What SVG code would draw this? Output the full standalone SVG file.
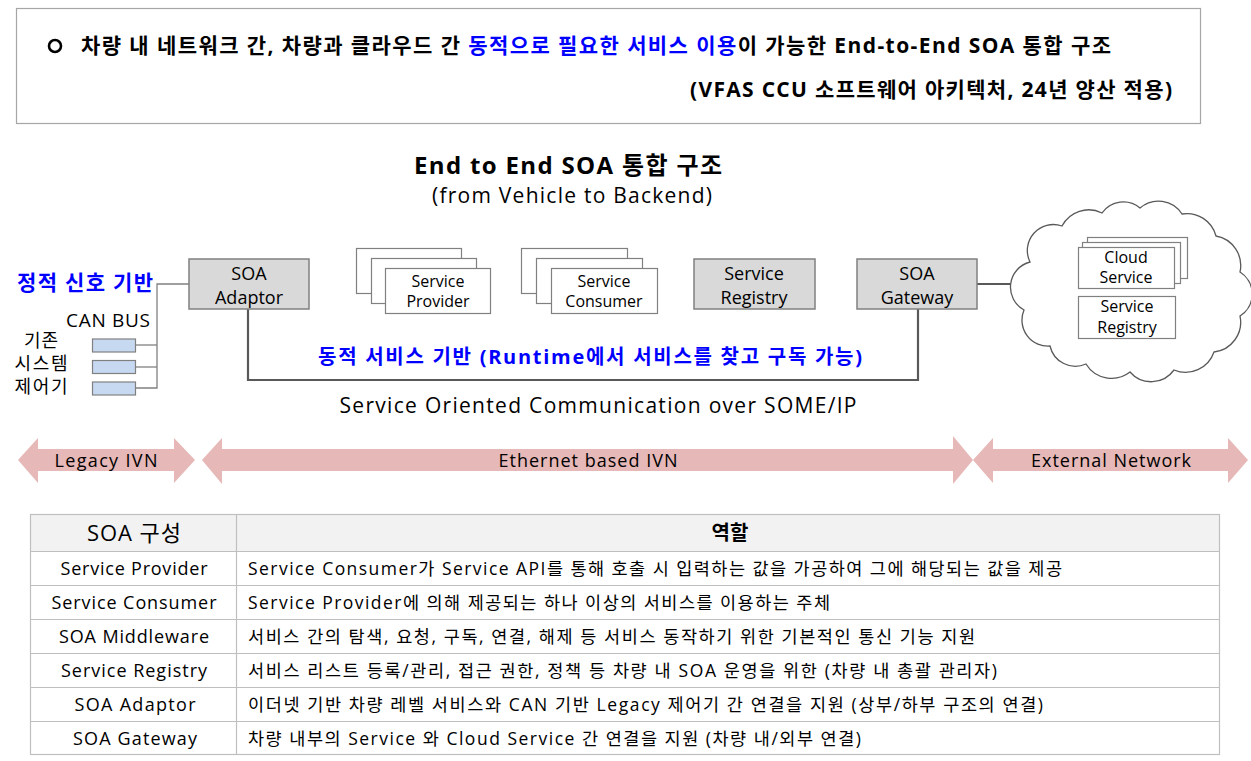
<svg xmlns="http://www.w3.org/2000/svg" width="1251" height="761" viewBox="0 0 1251 761">
<style>
text{font-family:"Open Sans","Noto Sans CJK KR",sans-serif;fill:#000}
.b{font-weight:bold}
.blue{fill:#0000ff}
.box{fill:#d9d9d9;stroke:#808080;stroke-width:1.5}
.wbox{fill:#fff;stroke:#808080;stroke-width:1.2}
.can{fill:#c6d9f1;stroke:#808080;stroke-width:1.2}
.ln{fill:none;stroke:#808080;stroke-width:1.3}
.bus{fill:none;stroke:#595959;stroke-width:2.2}
.nt{font-size:18px;text-anchor:middle}
.st{font-size:16px;text-anchor:middle}
.arr{fill:#e6b8b7}
.at{font-size:18px;text-anchor:middle}
.grid{stroke:#bfbfbf;stroke-width:1.2;fill:none}
.c1{font-size:18px;text-anchor:middle}
.c2{font-size:17.5px}
.lg{font-size:18px;text-anchor:middle}
</style>
<rect width="1251" height="761" fill="#fff"/>
<g id="title">
<rect x="16.5" y="8.5" width="1184" height="115" fill="#fff" stroke="#a6a6a6" stroke-width="1.2"/>
<circle cx="55" cy="46" r="6" fill="none" stroke="#000" stroke-width="2.6"/>
<text x="81" y="53" class="b" font-size="21" textLength="1030">차량 내 네트워크 간, 차량과 클라우드 간 <tspan class="blue">동적으로 필요한 서비스 이용</tspan>이 가능한 End-to-End SOA 통합 구조</text>
<text x="1172" y="97" class="b" font-size="21" text-anchor="end" textLength="482">(VFAS CCU 소프트웨어 아키텍처, 24년 양산 적용)</text>
</g>
<g id="heading">
<text x="568" y="174" font-size="24" class="b" text-anchor="middle" textLength="308">End to End SOA 통합 구조</text>
<text x="572" y="203" font-size="21" text-anchor="middle" textLength="280">(from Vehicle to Backend)</text>
</g>
<g id="connectors">
<polyline class="ln" points="189,284 157,284 157,388 135,388"/>
<line class="ln" x1="135" y1="345" x2="157" y2="345"/>
<line class="ln" x1="135" y1="367" x2="157" y2="367"/>
<polyline class="bus" points="248,309 248,380 918,380 918,309"/>
<line class="bus" x1="977" y1="284" x2="1019" y2="284"/>
</g>
<g id="legacy">
<text x="17" y="290" class="b blue" font-size="21" textLength="136">정적 신호 기반</text>
<text x="108" y="327" font-size="19" text-anchor="middle" textLength="84">CAN BUS</text>
<text class="lg" x="41" y="347" textLength="34">기존</text>
<text class="lg" x="41" y="370" textLength="53">시스템</text>
<text class="lg" x="41" y="393" textLength="53">제어기</text>
<rect class="can" x="92.5" y="339" width="43" height="13"/>
<rect class="can" x="92.5" y="360.5" width="43" height="13"/>
<rect class="can" x="92.5" y="382" width="43" height="13"/>
</g>
<g id="soa-adaptor">
<rect class="box" x="189" y="259" width="120" height="50"/>
<text class="nt" x="249" y="280">SOA</text>
<text class="nt" x="249" y="304">Adaptor</text>
</g>
<g id="service-provider">
<rect class="wbox" x="356.5" y="248.5" width="105" height="45"/>
<rect class="wbox" x="371.5" y="258.5" width="105" height="45"/>
<rect class="wbox" x="385.5" y="268.5" width="105" height="45"/>
<text class="st" x="438" y="287">Service</text>
<text class="st" x="438" y="307">Provider</text>
</g>
<g id="service-consumer">
<rect class="wbox" x="521.5" y="248.5" width="106" height="45"/>
<rect class="wbox" x="536.5" y="258.5" width="106" height="45"/>
<rect class="wbox" x="551.5" y="268.5" width="106" height="45"/>
<text class="st" x="604" y="287">Service</text>
<text class="st" x="604" y="307">Consumer</text>
</g>
<g id="service-registry">
<rect class="box" x="694" y="259" width="121" height="50"/>
<text class="nt" x="754" y="280">Service</text>
<text class="nt" x="754" y="304">Registry</text>
</g>
<g id="soa-gateway">
<rect class="box" x="857" y="259" width="120" height="50"/>
<text class="nt" x="917" y="280">SOA</text>
<text class="nt" x="917" y="304">Gateway</text>
</g>
<g id="labels">
<text x="318" y="364" class="b blue" font-size="20" textLength="544">동적 서비스 기반 (Runtime에서 서비스를 찾고 구독 가능)</text>
<text x="598" y="413" font-size="21" text-anchor="middle" textLength="517">Service Oriented Communication over SOME/IP</text>
</g>
<g id="cloud">
<path fill="#fff" stroke="#595959" stroke-width="1.3" d="M1030,262 A26,26 0 0 1 1062,226 A30,30 0 0 1 1102,213 A26,26 0 0 1 1140,208 A28,28 0 0 1 1182,214 A30,30 0 0 1 1216,236 A30,30 0 0 1 1240,272 A26,26 0 0 1 1240,316 A30,30 0 0 1 1214,352 A30,30 0 0 1 1174,370 A28,28 0 0 1 1130,372 A30,30 0 0 1 1086,364 A26,26 0 0 1 1050,346 A26,26 0 0 1 1024,310 A26,26 0 0 1 1030,262 Z"/>
<rect class="wbox" x="1087.5" y="237.5" width="100" height="41"/>
<rect class="wbox" x="1082.5" y="242.5" width="98" height="41"/>
<rect class="wbox" x="1078.5" y="247.5" width="96" height="41"/>
<text class="st" x="1126" y="263">Cloud</text>
<text class="st" x="1126" y="283">Service</text>
<rect class="wbox" x="1078.5" y="296.5" width="97" height="42"/>
<text class="st" x="1127" y="312">Service</text>
<text class="st" x="1127" y="333">Registry</text>
</g>
<g id="ivn-arrows">
<polygon class="arr" points="18,460 38,438 38,449 174,449 174,438 195,460 174,483 174,471 38,471 38,483"/>
<text class="at" x="106" y="467" textLength="103">Legacy IVN</text>
<polygon class="arr" points="202,460 222,438 222,449 953,449 953,436 973,460 953,484 953,471 222,471 222,484"/>
<text class="at" x="588" y="467" textLength="179">Ethernet based IVN</text>
<polygon class="arr" points="973,460 993,438 993,449 1228,449 1228,438 1248,460 1228,483 1228,471 993,471 993,483"/>
<text class="at" x="1111" y="467" textLength="160">External Network</text>
</g>
<g id="table">
<rect x="30" y="514" width="1189" height="37" fill="#f2f2f2"/>
<rect class="grid" x="30.5" y="514.5" width="1189" height="240"/>
<line class="grid" x1="236.5" y1="514" x2="236.5" y2="755"/>
<line class="grid" x1="30" y1="551.5" x2="1219" y2="551.5"/>
<line class="grid" x1="30" y1="585.5" x2="1219" y2="585.5"/>
<line class="grid" x1="30" y1="619.5" x2="1219" y2="619.5"/>
<line class="grid" x1="30" y1="653.5" x2="1219" y2="653.5"/>
<line class="grid" x1="30" y1="687.5" x2="1219" y2="687.5"/>
<line class="grid" x1="30" y1="721.5" x2="1219" y2="721.5"/>
<text x="134" y="541" font-size="22" text-anchor="middle" textLength="94">SOA 구성</text>
<text x="730" y="540" font-size="20" text-anchor="middle" class="b">역할</text>
<text class="c1" x="134" y="575" textLength="147">Service Provider</text>
<text class="c2" x="248" y="575" textLength="814">Service Consumer가 Service API를 통해 호출 시 입력하는 값을 가공하여 그에 해당되는 값을 제공</text>
<text class="c1" x="134" y="609" textLength="165">Service Consumer</text>
<text class="c2" x="248" y="609" textLength="582">Service Provider에 의해 제공되는 하나 이상의 서비스를 이용하는 주체</text>
<text class="c1" x="134" y="643" textLength="150">SOA Middleware</text>
<text class="c2" x="248" y="643" textLength="727">서비스 간의 탐색, 요청, 구독, 연결, 해제 등 서비스 동작하기 위한 기본적인 통신 기능 지원</text>
<text class="c1" x="134" y="677" textLength="146">Service Registry</text>
<text class="c2" x="248" y="677" textLength="749">서비스 리스트 등록/관리, 접근 권한, 정책 등 차량 내 SOA 운영을 위한 (차량 내 총괄 관리자)</text>
<text class="c1" x="135" y="711" textLength="121">SOA Adaptor</text>
<text class="c2" x="248" y="711" textLength="795">이더넷 기반 차량 레벨 서비스와 CAN 기반 Legacy 제어기 간 연결을 지원 (상부/하부 구조의 연결)</text>
<text class="c1" x="135" y="745" textLength="124">SOA Gateway</text>
<text class="c2" x="248" y="745" textLength="613">차량 내부의 Service 와 Cloud Service 간 연결을 지원 (차량 내/외부 연결)</text>
</g>
</svg>
